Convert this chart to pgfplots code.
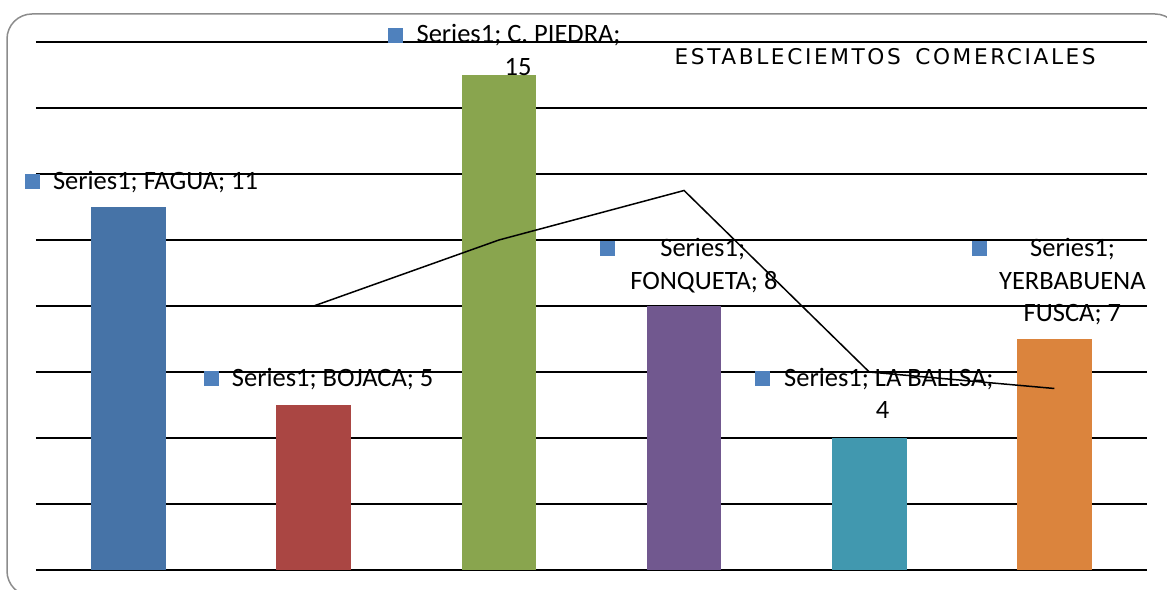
\documentclass[border=0pt]{standalone}
\usepackage{pgfplots}
\pgfplotsset{compat=1.18}
\usepackage{fontspec}
\setmainfont{Carlito}
\newfontfamily\titlefont[LetterSpace=12]{DejaVu Sans}
\definecolor{cblue}{HTML}{4673A7}
\definecolor{cred}{HTML}{AA4643}
\definecolor{cgreen}{HTML}{89A54E}
\definecolor{cpurple}{HTML}{71588F}
\definecolor{cteal}{HTML}{4198AF}
\definecolor{corange}{HTML}{DB843D}
\definecolor{lblue}{HTML}{4F81BD}
\definecolor{bordergray}{HTML}{8C8C8C}
\newcommand{\sq}{\textcolor{lblue}{\rule{9pt}{9pt}}}
\tikzset{lab/.style={font=\fontsize{15.9}{19.8}\selectfont, inner sep=0pt, text height=10.2pt, text depth=0pt}}
\begin{document}
\begin{tikzpicture}
\useasboundingbox (0,0) rectangle (700.2pt,353.4pt);
\draw[bordergray, line width=0.9pt, rounded corners=15pt] (4.2pt,-4.2pt) rectangle (708pt,345pt);
\begin{axis}[
  at={(21.6pt,11.4pt)}, anchor=south west,
  scale only axis, width=666.6pt, height=316.8pt,
  xmin=-0.5, xmax=5.5, ymin=0, ymax=16,
  ytick={0,2,...,16}, yticklabels={}, xtick=\empty,
  ymajorgrids, grid style={black, line width=1pt},
  axis line style={draw=none}, major tick length=0pt,
  clip=false,
]
\addplot[ybar, bar width=0.404, bar shift=0pt, fill=cblue, draw=none] coordinates {(0,11)};
\addplot[ybar, bar width=0.404, bar shift=0pt, fill=cred, draw=none] coordinates {(1,5)};
\addplot[ybar, bar width=0.404, bar shift=0pt, fill=cgreen, draw=none] coordinates {(2,15)};
\addplot[ybar, bar width=0.404, bar shift=0pt, fill=cpurple, draw=none] coordinates {(3,8)};
\addplot[ybar, bar width=0.404, bar shift=0pt, fill=cteal, draw=none] coordinates {(4,4)};
\addplot[ybar, bar width=0.404, bar shift=0pt, fill=corange, draw=none] coordinates {(5,7)};
\addplot[black, line width=0.9pt, mark=none] coordinates {(1,8) (2,10) (3,11.5) (4,6) (5,5.5)};
% data labels
\node[lab, anchor=west] at (axis cs:-0.561,11.79) {\sq\hspace{7.8pt}Series1; FAGUA; 11};
\node[lab, anchor=west] at (axis cs:1.397,16.24) {\sq\hspace{8.4pt}Series1; C. PIEDRA;};
\node[lab] at (axis cs:2.104,15.24) {15};
\node[lab, anchor=west] at (axis cs:0.405,5.82) {\sq\hspace{7.8pt}Series1; BOJACA; 5};
\node[lab, anchor=west] at (axis cs:2.546,9.76) {\sq\hspace{27pt}Series1;};
\node[lab] at (axis cs:3.107,8.76) {FONQUETA; 8};
\node[lab, anchor=west] at (axis cs:3.382,5.82) {\sq\hspace{8.4pt}Series1; LA BALLSA;};
\node[lab] at (axis cs:4.072,4.85) {4};
\node[lab, anchor=west] at (axis cs:4.552,9.76) {\sq\hspace{26pt}Series1;};
\node[lab] at (axis cs:5.097,8.76) {YERBABUENA};
\node[lab] at (axis cs:5.097,7.79) {FUSCA; 7};
\node[font=\titlefont\fontsize{13}{15}\selectfont, inner sep=0pt] at (axis cs:4.086,15.55) {ESTABLECIEMTOS\hspace{3pt} COMERCIALES};
\end{axis}
\end{tikzpicture}
\end{document}
